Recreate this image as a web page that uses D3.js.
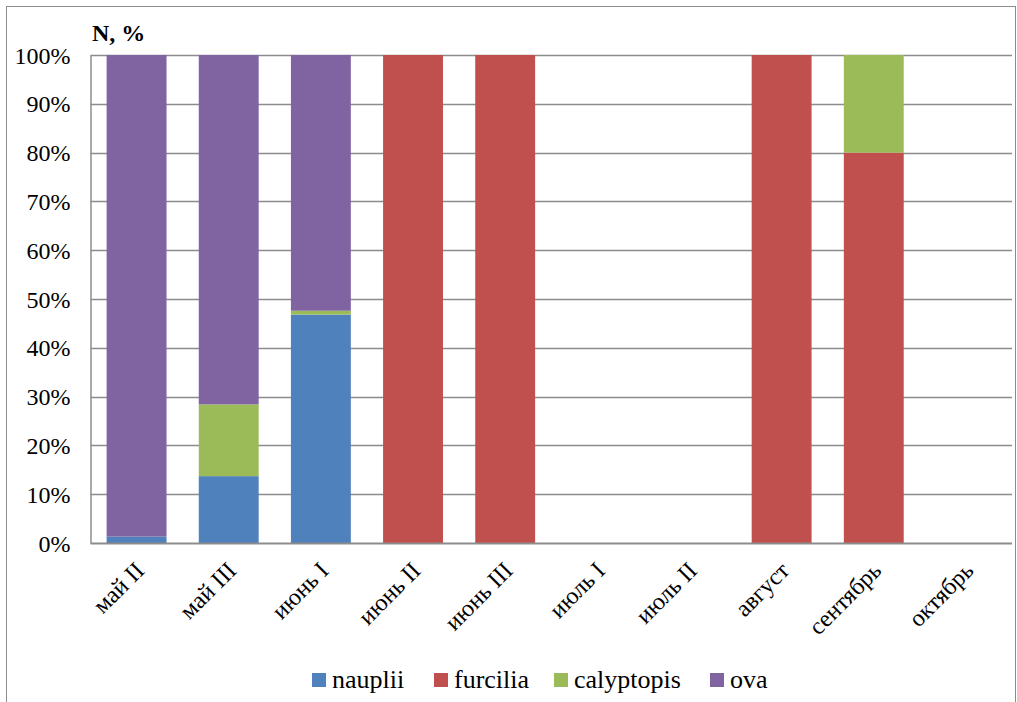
<!DOCTYPE html>
<html>
<head>
<meta charset="utf-8">
<script src="https://cdn.jsdelivr.net/npm/d3@7"></script>
<style>
  html, body { margin: 0; padding: 0; background: #fff; }
  svg { display: block; }
  text { font-family: "Liberation Serif", "Times New Roman", serif; fill: #000; }
</style>
</head>
<body>
<svg id="chart" width="1017" height="702"></svg>
<script>
// Periods of sampling
const categories = ["май II", "май III", "июнь I", "июнь II", "июнь III", "июль I", "июль II", "август", "сентябрь", "октябрь"];

// Share of each developmental stage, %
const nauplii    = [1.3, 13.7, 46.8, 0, 0, 0, 0, 0, 0, 0];
const furcilia   = [0, 0, 0, 100, 100, 0, 0, 100, 80, 0];
const calyptopis = [0, 14.7, 0.8, 0, 0, 0, 0, 0, 20, 0];
const ova        = [98.7, 71.6, 52.4, 0, 0, 0, 0, 0, 0, 0];

const seriesNames = ["nauplii", "furcilia", "calyptopis", "ova"];
const seriesColors = ["#4f81bd", "#c0504d", "#9bbb59", "#8064a2"];
const yTicks = [0, 10, 20, 30, 40, 50, 60, 70, 80, 90, 100];

const rows = categories.map((c, i) => ({
  cat: c,
  nauplii: nauplii[i],
  furcilia: furcilia[i],
  calyptopis: calyptopis[i],
  ova: ova[i]
}));

const svg = d3.select("#chart");
const W = 1017, H = 702;
const plot = { left: 90.5, right: 1012, top: 55, bottom: 543 };
const serif = "'Liberation Serif', 'Times New Roman', serif";

// outer frame
svg.append("rect")
  .attr("x", 6.5).attr("y", 6.5)
  .attr("width", W - 8).attr("height", H - 6)
  .attr("fill", "none").attr("stroke", "#8c8c8c").attr("stroke-width", 1);

const x = d3.scaleBand()
  .domain(categories)
  .range([plot.left, plot.right])
  .paddingInner(0.35)
  .paddingOuter(0.175);

const y = d3.scaleLinear().domain([0, 100]).range([plot.bottom, plot.top]);

// horizontal grid
svg.append("g")
  .selectAll("line")
  .data(yTicks.filter(t => t > 0))
  .join("line")
  .attr("x1", plot.left).attr("x2", plot.right)
  .attr("y1", d => Math.round(y(d)) + 0.5).attr("y2", d => Math.round(y(d)) + 0.5)
  .attr("stroke", "#8c8c8c").attr("stroke-width", 1.5);

// stacked bars
const stack = d3.stack().keys(seriesNames);
const layers = stack(rows);

svg.append("g")
  .selectAll("g")
  .data(layers)
  .join("g")
  .attr("fill", (d, i) => seriesColors[i])
  .selectAll("rect")
  .data(d => d)
  .join("rect")
  .attr("x", d => x(d.data.cat))
  .attr("width", x.bandwidth())
  .attr("y", d => y(d[1]))
  .attr("height", d => Math.max(0, y(d[0]) - y(d[1])));

// y axis
const yAxis = d3.axisLeft(y)
  .tickValues(yTicks)
  .tickFormat(d => d + "%")
  .tickSize(0)
  .tickPadding(20);

const gy = svg.append("g")
  .attr("transform", `translate(${plot.left},0)`)
  .call(yAxis)
  .attr("font-family", serif)
  .attr("font-size", 24);
gy.select(".domain").attr("stroke", "#8c8c8c").attr("stroke-width", 1.5);
gy.selectAll("text").attr("fill", "#000").attr("dy", "0.34em");

// x axis
const xAxis = d3.axisBottom(x).tickSize(0).tickPadding(0);
const gx = svg.append("g")
  .attr("transform", `translate(0,${plot.bottom})`)
  .call(xAxis)
  .attr("font-family", serif)
  .attr("font-size", 24);
gx.select(".domain").attr("stroke", "#8c8c8c").attr("stroke-width", 2)
  .attr("d", `M${plot.left},0.5H${plot.right}`);
gx.selectAll("text")
  .attr("fill", "#000")
  .attr("text-anchor", "end")
  .attr("dy", null)
  .attr("y", 0)
  .attr("transform", "translate(9,29) rotate(-45)");

// axis title
svg.append("text")
  .attr("x", 92).attr("y", 41)
  .attr("font-size", 24)
  .attr("font-weight", "bold")
  .text("N, %");

// legend
const legendX = [312, 434, 554, 710];
const legend = svg.append("g");
seriesNames.forEach((name, i) => {
  legend.append("rect")
    .attr("x", legendX[i]).attr("y", 673)
    .attr("width", 14).attr("height", 14)
    .attr("fill", seriesColors[i]);
  legend.append("text")
    .attr("x", legendX[i] + 20).attr("y", 688)
    .attr("font-size", 26)
    .text(name);
});
</script>
</body>
</html>
